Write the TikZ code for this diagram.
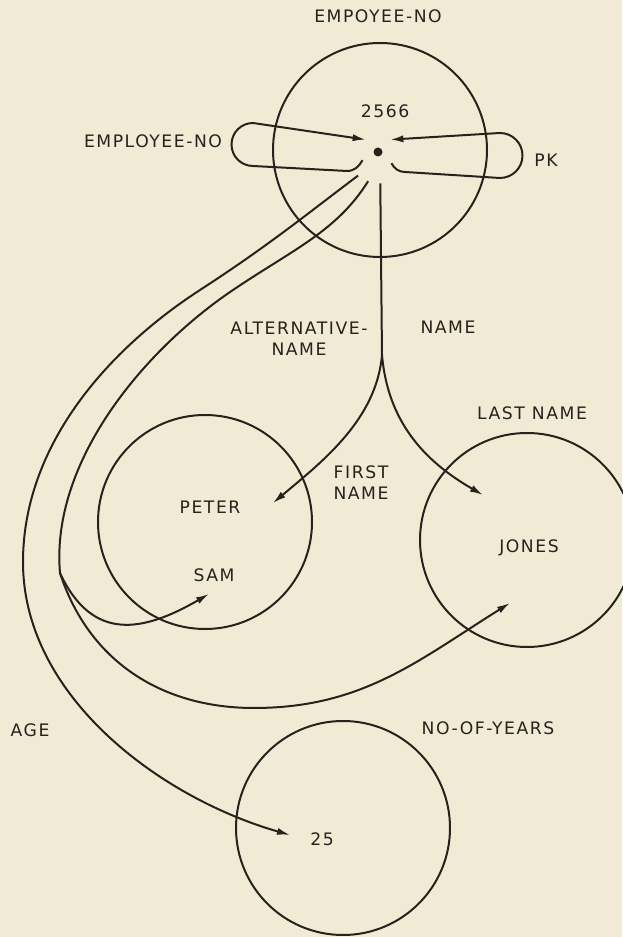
\documentclass[tikz,border=0pt]{standalone}
\usepackage{fontspec}
\setmainfont{DejaVu Sans}[LetterSpace=9]
\usepackage{tikz}
\usetikzlibrary{arrows.meta}
\pgfdeclarelayer{edgelayer}
\pgfdeclarelayer{nodelayer}
\pgfsetlayers{edgelayer,nodelayer,main}
\definecolor{paper}{RGB}{241,235,214}
\definecolor{ink}{RGB}{38,34,28}
\tikzstyle{valueset}=[circle, draw=ink, line width=1pt, minimum size=107pt, inner sep=0pt]
\tikzstyle{keydot}=[circle, fill=ink, inner sep=0pt, minimum size=4.5pt, outer sep=6.5pt]
\tikzstyle{tag}=[text=ink, font=\fontsize{8.6}{10.5}\selectfont, inner sep=2pt, align=center]
\tikzstyle{edge}=[draw=ink, line width=1pt]
\tikzstyle{arrowedge}=[draw=ink, line width=1pt, -{Latex[length=6.5pt,width=3.6pt]}]

\begin{document}
\begin{tikzpicture}[x=5pt, y=5pt]
	\useasboundingbox (0,0) rectangle (62.2,93.7);
	\begin{pgfonlayer}{nodelayer}
		\node [style=valueset] (emp) at (38.0,78.7) {};
		\node [style=valueset] (first) at (20.5,41.5) {};
		\node [style=valueset] (last) at (52.7,39.7) {};
		\node [style=valueset] (years) at (34.3,10.9) {};
		\node [style=keydot] (key) at (37.8,78.5) {};
		\node [style=tag] (empname) at (37.8,92.1) {EMPOYEE-NO};
		\node [style=tag] (v2566) at (38.5,82.6) {2566};
		\node [style=tag] (empno) at (15.3,79.6) {EMPLOYEE-NO};
		\node [style=tag] (pk) at (54.6,77.7) {PK};
		\node [style=tag] (altname) at (29.9,59.8) {ALTERNATIVE-\\NAME};
		\node [style=tag] (name) at (44.8,61.0) {NAME};
		\node [style=tag] (lastname) at (53.2,52.4) {LAST NAME};
		\node [style=tag] (firstname) at (36.1,45.4) {FIRST\\NAME};
		\node [style=tag] (peter) at (21.0,43.0) {PETER};
		\node [style=tag] (sam) at (21.4,36.2) {SAM};
		\node [style=tag] (jones) at (52.9,38.9) {JONES};
		\node [style=tag] (age) at (3.0,20.7) {AGE};
		\node [style=tag] (noofyears) at (48.8,20.9) {NO-OF-YEARS};
		\node [style=tag] (v25) at (32.2,9.8) {25};
	\end{pgfonlayer}
	\coordinate (split) at (38.2,58.2);
	\coordinate (fork) at (6.0,36.4);
	\coordinate (petertip) at (27.3,43.4);
	\coordinate (samtip) at (20.9,34.3);
	\coordinate (jonestop) at (48.3,44.2);
	\coordinate (jonesbot) at (51.0,33.4);
	\coordinate (yearstip) at (29.0,10.2);
	\begin{pgfonlayer}{edgelayer}
		\fill [paper] (0,0) rectangle (62.2,93.7);
		% self loops on the key
		\draw [style=arrowedge] (key.208) to[out=240, in=0] (34.7,76.6) -- (25.3,77.1) arc[start angle=270, end angle=90, radius=2.15] -- (key.135);
		\draw [style=arrowedge] (key.-40) to[out=-60, in=180] (40.5,76.5) -- (50.0,75.9) arc[start angle=-90, end angle=90, radius=2.25] -- (key.45);
		% name
		\draw [style=edge, shorten <=7pt] (key.277) -- (split);
		\draw [style=arrowedge] (split) to[out=-95, in=40, looseness=0.9] (petertip);
		\draw [style=arrowedge] (split) to[out=-85, in=150] (jonestop);
		% alternative name
		\draw [style=edge, shorten <=7pt] (key.262) to[out=238, in=34] (23.3,64.7) to[out=214, in=95, looseness=0.85] (fork);
		\draw [style=arrowedge] (fork) to[out=-65, in=210, looseness=1.3] (samtip);
		\draw [style=arrowedge] (fork) to[out=-72, in=180] (25.4,22.9) to[out=0, in=212] (jonesbot);
		% age
		\draw [style=arrowedge, shorten <=7pt] (key.240) to[out=217, in=33] (20.0,64.7) to[out=213, in=90, looseness=0.9] (2.3,37.5) to[out=-90, in=164, looseness=0.9] (yearstip);
	\end{pgfonlayer}
\end{tikzpicture}
\end{document}
